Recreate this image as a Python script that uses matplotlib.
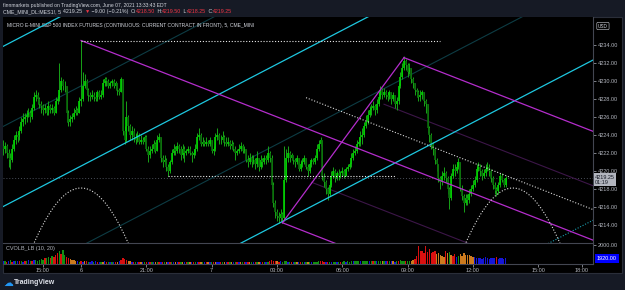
import numpy as np
import matplotlib
matplotlib.use('Agg')
import matplotlib.pyplot as plt
from matplotlib.patches import Rectangle
from matplotlib.ticker import FuncFormatter

plt.rcParams['font.family'] = ['Liberation Sans Narrow', 'Liberation Sans', 'DejaVu Sans']

# 5 minute bars of MES1! (bar index 0 = Fri ~13:10)
first_open = 4222.75
closes = [
    4222.5, 4222.75, 4222, 4221.5, 4221.25, 4222.5, 4223.5, 4224, 4223.75, 4224.5,
    4225.5, 4225.75, 4226, 4226.25, 4226.5, 4226, 4227, 4228.25, 4228.5, 4228,
    4227.5, 4227.25, 4226.75, 4227, 4226.5, 4227.25, 4226.75, 4227, 4226.5, 4227.75,
    4228, 4229, 4230, 4229.5, 4229.5, 4226.5, 4225.5, 4225.75, 4226, 4226.5,
    4226.75, 4226.5, 4227.75, 4228, 4229.5, 4230, 4229, 4228.5, 4228.25, 4228.5,
    4228.25, 4228, 4228.75, 4228.25, 4228.5, 4229.75, 4230.25, 4230, 4229.5, 4229.75,
    4230, 4229.5, 4229.75, 4229, 4228.75, 4230.25, 4224.5, 4223.5, 4226, 4225,
    4224, 4224.5, 4223.75, 4223.5, 4224, 4223.25, 4223.5, 4223.25, 4223.75, 4222.5,
    4221.75, 4222.25, 4222.5, 4223, 4222.25, 4223.5, 4223.75, 4221.5, 4221, 4221.25,
    4220.5, 4220, 4221, 4222, 4222.5, 4222.25, 4222.75, 4222.5, 4221.75, 4222.5,
    4222, 4222.25, 4222.5, 4222, 4221.75, 4222, 4222.5, 4223.75, 4224, 4223,
    4223.25, 4223, 4223.25, 4223, 4223.5, 4222.25, 4222.5, 4223.75, 4224, 4223.5,
    4223.5, 4223.75, 4223.25, 4223, 4223.25, 4222.75, 4223, 4222.5, 4222, 4222.25,
    4222.5, 4222.75, 4222.25, 4222.5, 4221.25, 4221, 4221.5, 4221, 4221.25, 4220.75,
    4221.5, 4220.5, 4221.25, 4221, 4221.5, 4221.25, 4222, 4221.5, 4218.5, 4216.5,
    4215.5, 4215, 4214.75, 4215.25, 4214.75, 4219, 4221.5, 4222, 4221.5, 4221.75,
    4221.25, 4221, 4221.5, 4220.25, 4220.75, 4221, 4221.5, 4220.5, 4220, 4220.75,
    4221.25, 4221, 4221.5, 4222.5, 4223, 4223.5, 4219.5, 4218.75, 4218, 4217.5,
    4218.5, 4219.5, 4220, 4219.25, 4219.75, 4219.5, 4219.75, 4220, 4219.5, 4220.25,
    4220.5, 4220.75, 4221.5, 4222, 4222.25, 4223, 4223.25, 4223.75, 4224, 4225,
    4225.5, 4226.25, 4226.75, 4227, 4227.25, 4226.75, 4227.5, 4228.25, 4229, 4228.5,
    4228.75, 4228.5, 4228.25, 4228.75, 4228, 4228.5, 4227.5, 4227.75, 4229.5, 4230.5,
    4231.5, 4232.25, 4231.75, 4231, 4231.5, 4230.25, 4229.75, 4229, 4228.75, 4228.25,
    4228.5, 4228.75, 4227.75, 4227.5, 4224.75, 4224, 4223, 4222.5, 4221.25, 4220.75,
    4219.25, 4218.75, 4219.5, 4219.75, 4219.25, 4218, 4217, 4219.5, 4220.25, 4220,
    4220.5, 4221, 4218, 4217.25, 4216.5, 4217, 4216.75, 4217.5, 4218, 4218.5,
    4219, 4220.25, 4220.5, 4220, 4219.5, 4219.75, 4220.25, 4220.5, 4220, 4219.25,
    4218.5, 4218, 4217.75, 4218.5, 4219.5, 4219, 4218.5, 4219.25,
]
highs = [
    4223.5, 4223.25, 4223, 4222.5, 4222, 4223, 4224, 4224.5, 4224.25, 4225,
    4226, 4226.5, 4226.5, 4226.75, 4227, 4226.75, 4227.5, 4228.75, 4229, 4228.75,
    4228.25, 4227.75, 4227.5, 4227.5, 4227.25, 4227.75, 4227.5, 4227.5, 4227.25, 4228.25,
    4228.5, 4232, 4230.5, 4230.25, 4230, 4229.5, 4226.75, 4226.25, 4226.5, 4227,
    4227.25, 4227, 4228.25, 4234.5, 4231, 4230.75, 4230.25, 4229.25, 4228.75, 4229,
    4228.75, 4228.5, 4229, 4229, 4229, 4230.25, 4230.5, 4230.5, 4230.25, 4230,
    4230.25, 4230.25, 4230, 4229.75, 4229.25, 4230.5, 4230.25, 4225, 4227.75, 4226.25,
    4225.25, 4225, 4224.75, 4224.25, 4224.5, 4224.25, 4224, 4223.75, 4224, 4224,
    4222.75, 4222.75, 4223, 4223.5, 4223.25, 4224, 4224.25, 4223.75, 4221.75, 4221.75,
    4221.5, 4220.75, 4221.25, 4222.5, 4223, 4222.75, 4223.25, 4223, 4222.75, 4223,
    4222.75, 4222.5, 4222.75, 4222.75, 4222.25, 4222.5, 4223, 4224.25, 4224.75, 4224.25,
    4223.75, 4223.5, 4223.75, 4223.5, 4223.75, 4223.5, 4222.75, 4224.25, 4224.75, 4224.25,
    4224, 4224.5, 4224, 4223.75, 4223.75, 4223.5, 4223.5, 4223.25, 4222.75, 4222.5,
    4223, 4223.25, 4223, 4222.75, 4222.5, 4221.75, 4222, 4221.75, 4221.75, 4221.5,
    4222.25, 4221.5, 4221.75, 4221.5, 4221.75, 4221.75, 4222.75, 4222.25, 4221.75, 4218.75,
    4216.75, 4215.75, 4215.5, 4215.75, 4215.5, 4222.75, 4222.5, 4222.75, 4222.25, 4222,
    4221.75, 4221.5, 4221.75, 4221.5, 4221.25, 4221.5, 4221.75, 4221.5, 4220.75, 4221,
    4221.5, 4221.5, 4221.75, 4223, 4223.5, 4223.75, 4223.5, 4219.75, 4219, 4218.25,
    4219, 4220, 4220.5, 4220.25, 4220, 4220.25, 4220, 4220.5, 4220.25, 4220.5,
    4220.75, 4221, 4222, 4222.5, 4222.75, 4223.5, 4223.75, 4224.5, 4224.75, 4225.5,
    4226.25, 4226.75, 4227.25, 4227.5, 4227.75, 4227.5, 4228, 4228.75, 4229.5, 4229.25,
    4229.25, 4229, 4228.75, 4229, 4228.75, 4228.75, 4228.5, 4228.25, 4229.75, 4231,
    4232, 4232.75, 4232.5, 4232, 4232, 4231.5, 4230.5, 4229.75, 4229.25, 4229,
    4229, 4229, 4228.75, 4228, 4227.5, 4225, 4224.25, 4223.25, 4222.5, 4221.5,
    4220.75, 4219.5, 4220, 4220.5, 4220, 4219.5, 4218.25, 4219.75, 4220.75, 4220.75,
    4221, 4221.5, 4221, 4218.5, 4217.5, 4217.5, 4217.5, 4218, 4218.5, 4219,
    4219.5, 4220.75, 4221, 4220.75, 4220.25, 4220.25, 4220.75, 4221, 4220.75, 4220.25,
    4219.5, 4218.75, 4218.25, 4218.75, 4219.75, 4219.75, 4219.25, 4219.5,
]
lows = [
    4221.75, 4222, 4221.5, 4220.5, 4220.25, 4221, 4222.25, 4223, 4223.25, 4223.5,
    4224.25, 4225, 4225.25, 4225.5, 4226, 4225.5, 4225.75, 4226.75, 4227.75, 4227.5,
    4227, 4226.5, 4226.25, 4226.5, 4226.25, 4226.25, 4226.5, 4226.5, 4226.25, 4226.5,
    4227.5, 4227.75, 4228.75, 4229, 4228.75, 4225.5, 4225, 4225, 4225.5, 4225.75,
    4226.25, 4226.25, 4226.5, 4227.25, 4227.75, 4229.25, 4228.5, 4227.75, 4227.75, 4228,
    4227.75, 4227.75, 4227.75, 4228, 4228, 4228.25, 4229.5, 4229.5, 4229.25, 4229.25,
    4229.5, 4229.25, 4229, 4228.5, 4228.5, 4228.75, 4224, 4223, 4223.25, 4224.5,
    4223.5, 4223.5, 4223.25, 4223, 4223.25, 4223, 4223, 4223, 4223, 4222.25,
    4221, 4221.5, 4222, 4222.25, 4222, 4222.25, 4223.25, 4221, 4220.5, 4220.75,
    4220, 4219.5, 4219.75, 4220.75, 4221.75, 4221.75, 4222, 4222, 4221.25, 4221.5,
    4221, 4221.75, 4222, 4221.75, 4221, 4221.5, 4221.75, 4222.25, 4223.5, 4222.75,
    4222.75, 4222.75, 4222.75, 4222.75, 4222.75, 4222, 4221.75, 4222.25, 4223.5, 4223,
    4223, 4223.25, 4222.75, 4222.75, 4222.75, 4222.5, 4222.5, 4222.25, 4221.25, 4221.75,
    4222, 4222.25, 4222, 4222, 4221, 4220.5, 4220.75, 4220.5, 4220.75, 4220.25,
    4220.5, 4220, 4220.25, 4220.5, 4220.75, 4220.75, 4221, 4221, 4218, 4216,
    4214.75, 4214.5, 4214.25, 4214.5, 4214.25, 4214.5, 4218.75, 4221, 4221, 4221.25,
    4220.75, 4220.5, 4220.75, 4220, 4220, 4220.5, 4220.75, 4220.25, 4219.5, 4219.75,
    4220.5, 4220.75, 4220.75, 4221.25, 4222.25, 4222.75, 4219, 4218.25, 4217.5, 4216.75,
    4217.25, 4218.25, 4219.25, 4218.75, 4219, 4219, 4219.25, 4219.5, 4219.25, 4219.5,
    4220, 4220.25, 4220.5, 4221.25, 4221.75, 4222, 4222.75, 4222.75, 4223, 4223.75,
    4224.75, 4225.25, 4226, 4226.25, 4226.75, 4226.25, 4226.5, 4227.25, 4228, 4228,
    4228.25, 4228, 4227.75, 4228, 4227.5, 4227.75, 4227, 4226.75, 4227.5, 4229.25,
    4230.25, 4231.25, 4231.25, 4230.5, 4230.75, 4229.75, 4229.25, 4228.5, 4228.25, 4227.75,
    4227.75, 4228, 4227.25, 4226.5, 4224.25, 4223.25, 4222.5, 4221.75, 4220.75, 4220,
    4218.75, 4218, 4218.5, 4219, 4218.75, 4217.5, 4215.75, 4216.75, 4219.25, 4219.5,
    4219.75, 4220.25, 4217.75, 4216.75, 4215.5, 4216.25, 4216.25, 4216.5, 4217.25, 4217.75,
    4218.25, 4218.75, 4220, 4219.5, 4219, 4219.25, 4219.5, 4220, 4219.5, 4218.75,
    4218, 4217.5, 4217.25, 4217.5, 4218.25, 4218.75, 4218.25, 4218.25,
]

# CVOLB_LB (10, 20) indicator values and bar colours (g/r/b/o)
vol = [
    1902, 1905, 1899, 1903, 1907, 1900, 1904, 1906, 1901, 1905,
    1903, 1899, 1906, 1902, 1908, 1904, 1901, 1907, 1910, 1906,
    1912, 1916, 1910, 1920, 1924, 1930, 1922, 1934, 1926, 1938,
    1950, 1962, 1944, 1972, 1940, 1928, 1920, 1916, 1912, 1908,
    1906, 1903, 1900, 1904, 1898, 1901, 1905, 1899, 1897, 1902,
    1898, 1901, 1897, 1900, 1896, 1899, 1901, 1897, 1900, 1896,
    1898, 1897, 1900, 1896, 1901, 1910, 1922, 1918, 1912, 1906,
    1903, 1900, 1898, 1899, 1897, 1898, 1896, 1899, 1897, 1898,
    1899, 1897, 1898, 1896, 1897, 1899, 1896, 1898, 1900, 1897,
    1898, 1896, 1897, 1899, 1896, 1898, 1897, 1896, 1898, 1897,
    1896, 1898, 1897, 1899, 1896, 1897, 1898, 1896, 1899, 1897,
    1898, 1896, 1897, 1898, 1896, 1899, 1897, 1898, 1896, 1897,
    1898, 1897, 1896, 1898, 1897, 1899, 1896, 1897, 1898, 1896,
    1897, 1898, 1896, 1899, 1897, 1898, 1896, 1897, 1899, 1898,
    1897, 1899, 1898, 1896, 1897, 1898, 1900, 1904, 1908, 1905,
    1903, 1901, 1900, 1903, 1899, 1906, 1902, 1900, 1898, 1899,
    1897, 1898, 1896, 1899, 1897, 1898, 1896, 1897, 1899, 1898,
    1897, 1899, 1898, 1900, 1902, 1901, 1904, 1900, 1899, 1898,
    1897, 1899, 1898, 1900, 1899, 1898, 1900, 1899, 1901, 1900,
    1901, 1900, 1902, 1903, 1901, 1902, 1904, 1903, 1902, 1904,
    1903, 1905, 1904, 1902, 1903, 1904, 1902, 1905, 1906, 1904,
    1903, 1902, 1904, 1901, 1903, 1902, 1900, 1904, 1906, 1908,
    1906, 1905, 1903, 1902, 1904, 1906, 1910, 1914, 1935, 1994,
    1966, 1962, 1950, 1992, 1960, 1978, 1950, 1958, 1962, 1945,
    1950, 1940, 1936, 1930, 1966, 1952, 1955, 1942, 1935, 1944,
    1930, 1934, 1945, 1935, 1950, 1940, 1938, 1942, 1935, 1930,
    1926, 1922, 1924, 1920, 1918, 1922, 1926, 1920, 1918, 1922,
    1920, 1924, 1926, 1918, 1922, 1920, 1918, 1922,
]
vol_colors = ''.join([
    'bgrbgrbgbr', 'gbrgbgrbgg', 'gggrggrgrr', 'rgrggrrooo', 'obgrborgbb',
    'gbrbgobrgb', 'gbrobrrrro', 'obrgbrobgr', 'brgbogrbrg', 'obrgbobrgo',
    'brgobrgbro', 'gbrobgrobb', 'rgobrgobgr', 'bogrbrogbr', 'gobrgbgrrr',
    'rorbgggbgr', 'bgobrgbgog', 'bggggrrrbr', 'gbggbgrggb', 'gggbgggbgg',
    'ggbgrgbggo', 'gbrgbobgrg', 'ggrggoorrr', 'rrrrrrrrro', 'oooorogorr',
    'bgoooooooo', 'bbbbbbbbbb', 'bbrbbbbb',
])

tick_bars = [22, 43, 79, 115, 151, 187, 223, 259, 295, 319]
tick_labels = ['15:00', '6', '21:00', '7', '03:00', '06:00', '09:00', '12:00', '15:00', '18:00']
price_ticks = list(range(4214, 4235, 2))
last_price = 4219.25
vol_last = 1920.0

# drawing tools, anchors in (bar index, price)
spike = (43, 4234.5)
low_pt = (154, 4214.25)
peak_pt = (221, 4232.6)
mag_slope = -0.0786
cyan_slope = 0.1048
cyan_main = [4233.85, 4216.05, 4198.25]
cyan_mid = [4224.95, 4207.15]
cyan_ext = 4180.45
res_start = (167, 4228.15)
top_level = (43, 241, 4234.5)
mid_level = (91, 216, 4219.5)
cycle_peak = (43, 4218.11)
cycle_period = 238
cycle_amp = 27.1

W, H = 625, 290
def fx(x):
    return x / W
def fy(y):
    return 1 - y / H

fig = plt.figure(figsize=(W / 100, H / 100), dpi=100, facecolor='#161a25')
fig.patches.append(Rectangle((fx(2.5), fy(273)), fx(622) - fx(2.5), fy(16.5) - fy(273),
                             transform=fig.transFigure, facecolor='black',
                             edgecolor='#2a2e39', lw=0.8, zorder=-10))

ax = fig.add_axes([fx(2.5), fy(243), fx(593) - fx(2.5), fy(16.5) - fy(243)], zorder=2)
axv = fig.add_axes([fx(2.5), fy(264), fx(593) - fx(2.5), fy(243) - fy(264)], sharex=ax, zorder=1)

x_left, x_right = -0.33, 325.2
grey = '#b2b5be'
line_col = '#434651'

# candles
idx = np.arange(len(closes))
c = np.array(closes)
h = np.array(highs)
l = np.array(lows)
o = np.concatenate([[first_open], c[:-1]])
up = c >= o
ax.vlines(idx, l, h, color='#17a317', lw=0.7, zorder=3)
ax.vlines(idx[up], o[up], c[up], color='#00d400', lw=1.2, zorder=4)
ax.vlines(idx[~up], o[~up], c[~up], color='#0b6a0b', lw=1.2, zorder=4)

# cyan channel
for base in cyan_main:
    ax.plot([x_left, x_right], [base + cyan_slope * x_left, base + cyan_slope * x_right],
            color='#1ec8e0', lw=0.9, zorder=5)
for base in cyan_mid:
    ax.plot([x_left, x_right], [base + cyan_slope * x_left, base + cyan_slope * x_right],
            color='#0d3c44', lw=0.8, zorder=2)
ax.plot([x_left, x_right], [cyan_ext + cyan_slope * x_left, cyan_ext + cyan_slope * x_right],
        color='#1a9fb0', lw=0.8, ls=(0, (1, 1.5)), zorder=5)

# magenta rays
def mag_line(i0, p0, i1=x_right):
    return [i0, i1], [p0, p0 + mag_slope * (i1 - i0)]

mag = '#b42dcc'
for pt in (spike, low_pt, peak_pt):
    ax.plot(*mag_line(*pt), color=mag, lw=0.9, zorder=5)
ax.plot([low_pt[0], peak_pt[0]], [low_pt[1], peak_pt[1]], color=mag, lw=0.9, zorder=5)

def line_a(i):
    return spike[1] + mag_slope * (i - spike[0])

off_c = peak_pt[1] - line_a(peak_pt[0])
off_b = low_pt[1] - line_a(low_pt[0])
ax.plot(*mag_line(210, line_a(210) + off_c / 2), color='#3c1648', lw=0.8, zorder=2)
ax.plot(*mag_line(170, line_a(170) + off_b / 2), color='#3c1648', lw=0.8, zorder=2)

# white dotted levels
dot = (0, (1, 1.6))
ax.plot(*mag_line(*res_start), color='#d8d8d8', lw=0.8, ls=dot, zorder=5)
ax.plot([top_level[0], top_level[1]], [top_level[2]] * 2, color='#e8e8e8', lw=0.8, ls=dot, zorder=5)
ax.plot([mid_level[0], mid_level[1]], [mid_level[2]] * 2, color='#e8e8e8', lw=0.8, ls=dot, zorder=5)
ax.axhline(last_price, color='#4a4e59', lw=0.7, ls=(0, (1, 2)), zorder=1)

# cycle arcs
ii = np.linspace(x_left, x_right, 800)
pp = cycle_peak[1] - cycle_amp * (1 - np.cos(2 * np.pi * (ii - cycle_peak[0]) / cycle_period))
ax.plot(ii, pp, color='#e0e0e0', lw=0.8, ls=dot, zorder=5)

ax.set_xlim(x_left, x_right)
ax.set_ylim(4212.0, 4237.17)
ax.set_facecolor('black')
for s in ('top', 'left'):
    ax.spines[s].set_visible(False)
ax.spines['right'].set_color(line_col)
ax.spines['bottom'].set_color(line_col)
ax.yaxis.tick_right()
ax.set_yticks(price_ticks)
ax.yaxis.set_major_formatter(FuncFormatter(lambda v, _: f'{v:.2f}'))
ax.tick_params(axis='y', colors=grey, labelsize=4, length=2, width=0.5, pad=1.5)
ax.tick_params(axis='x', bottom=False, labelbottom=False)

ax.text(0.0076, 0.962, 'MICRO E-MINI S&P 500 INDEX FUTURES (CONTINUOUS: CURRENT CONTRACT IN FRONT), 5, CME_MINI',
        transform=ax.transAxes, color='#d1d4dc', fontsize=3.6, va='center', ha='left')

ax.annotate(f'{last_price:.2f}\n01:19', xy=(1, last_price), xycoords=('axes fraction', 'data'),
            xytext=(2, 3), textcoords='offset pixels', ha='left', va='top', fontsize=4,
            color='#131722', linespacing=1.0, annotation_clip=False,
            bbox=dict(boxstyle='square,pad=0.25', fc='#b2b5be', ec='none'))
ax.annotate('USD', xy=(1, 4236), xycoords=('axes fraction', 'data'), xytext=(5, 1),
            textcoords='offset pixels', ha='left', va='center', fontsize=3.4, color='#d1d4dc',
            annotation_clip=False,
            bbox=dict(boxstyle='round,pad=0.25', fc='black', ec='#d1d4dc', lw=0.4))

# volume pane
cmap = {'g': '#138f13', 'r': '#d81010', 'b': '#1616d8', 'o': '#cc7a1e'}
axv.bar(idx, np.array(vol) - 1886, bottom=1886, width=0.75,
        color=[cmap[ch] for ch in vol_colors], zorder=3)
axv.set_ylim(1886, 2012)
axv.set_facecolor('black')
for s in ('top', 'left'):
    axv.spines[s].set_visible(False)
axv.spines['right'].set_color(line_col)
axv.spines['bottom'].set_color(line_col)
axv.yaxis.tick_right()
axv.set_yticks([2000])
axv.yaxis.set_major_formatter(FuncFormatter(lambda v, _: f'{v:.2f}'))
axv.tick_params(axis='y', colors=grey, labelsize=4, length=2, width=0.5, pad=1.5)
axv.set_xticks(tick_bars)
axv.set_xticklabels(tick_labels)
axv.tick_params(axis='x', colors=grey, labelsize=4, length=2, width=0.5, pad=1)
axv.text(0.006, 0.72, 'CVOLB_LB (10, 20)', transform=axv.transAxes, color=grey,
         fontsize=4, va='center', ha='left')
axv.annotate(f'{vol_last:.2f}', xy=(1, vol_last), xycoords=('axes fraction', 'data'),
             xytext=(4, 0), textcoords='offset pixels', ha='left', va='center', fontsize=4,
             color='white', annotation_clip=False,
             bbox=dict(boxstyle='square,pad=0.3', fc='#0000ff', ec='none'))

# header
fig.text(fx(3), fy(5.5), 'finnmarkets published on TradingView.com, June 07, 2021 13:33:43 EDT',
         color='#d1d4dc', fontsize=3.6, va='center', ha='left')
renderer = fig.canvas.get_renderer()
red = '#f23645'
white = '#d1d4dc'
parts = [('CME_MINI_DL:MES1!, 5 ', white), ('4219.25 ', white), ('\u25bc', red),
         (' \u22129.00 (\u22120.21%) ', white),
         ('O:', white), ('4218.50', red), (' H:', white), ('4219.50', red),
         (' L:', white), ('4218.25', red), (' C:', white), ('4219.25', red)]
x_px = 3.0
for s, col in parts:
    t = fig.text(fx(x_px), fy(11.5), s, color=col, fontsize=3.8, va='center', ha='left')
    bb = t.get_window_extent(renderer)
    x_px += bb.width + (0.8 if s.endswith(' ') else 0.0)

# footer logo
fig.text(fx(3), fy(283), '\u2601', color='#2196f3', fontsize=7, family='DejaVu Sans',
         va='center', ha='left')
fig.text(fx(13.5), fy(283), 'TradingView', color='#e0e3eb', fontsize=5, fontweight='bold',
         va='center', ha='left')

fig.savefig('out.png', dpi=100, facecolor=fig.get_facecolor())
